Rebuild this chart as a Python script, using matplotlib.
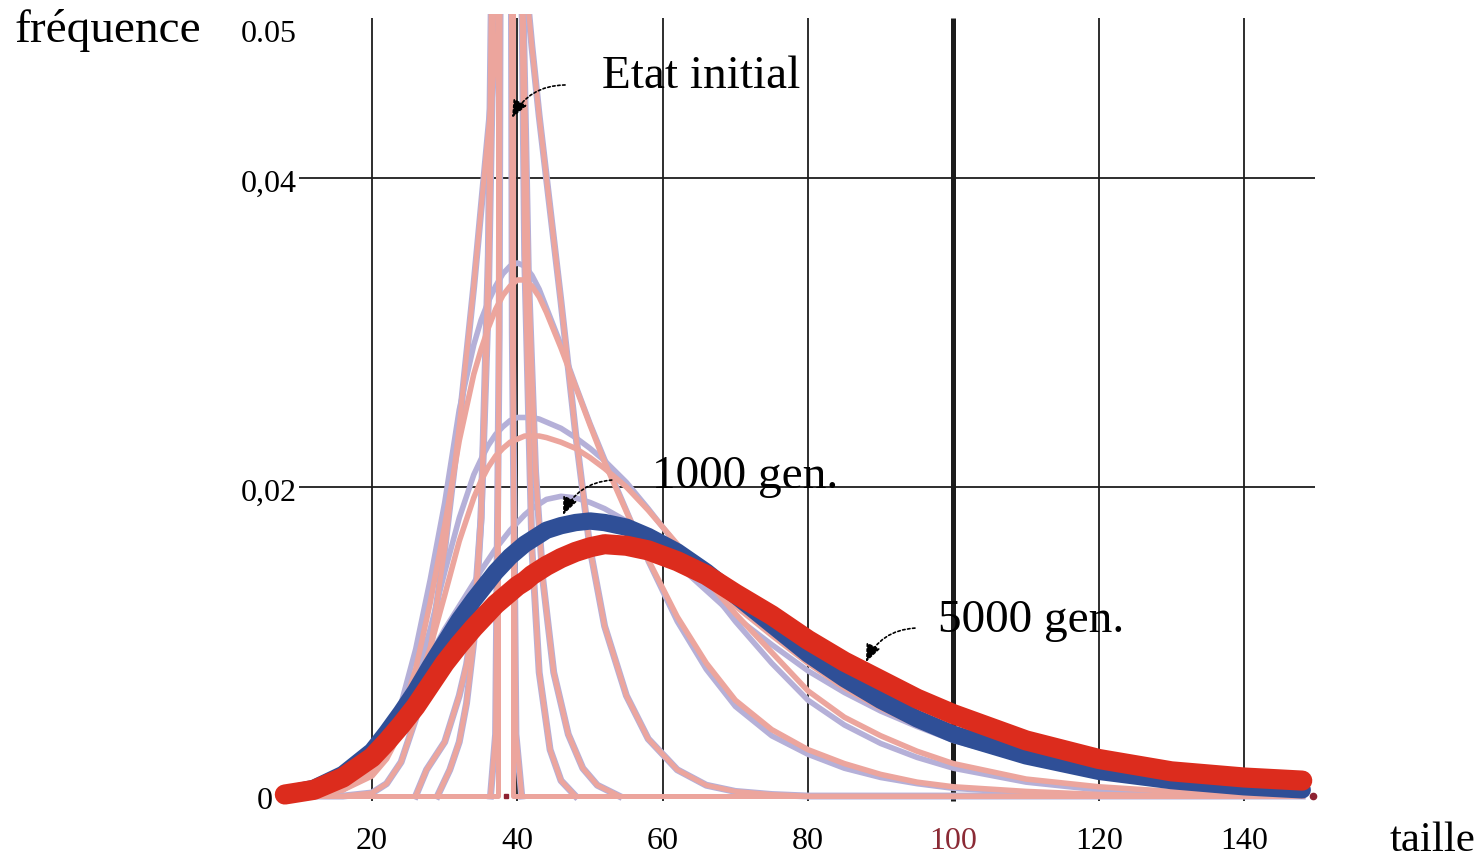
import matplotlib.pyplot as plt
from matplotlib.transforms import ScaledTranslation

plt.rcParams['font.family'] = ['Liberation Serif', 'DejaVu Serif']

# size classes (x) shared by the broad distributions
taille = [8, 12, 16, 20, 22, 24, 26, 28, 30, 32, 34, 35, 36, 37, 38, 39, 40, 41, 42, 43,
          44, 46, 48, 50, 52, 55, 58, 62, 66, 70, 75, 80, 85, 90, 95, 100, 110, 120, 130,
          140, 148]

# final states
red_5000 = [0.0001, 0.0004, 0.0012, 0.0025, 0.0035, 0.0046, 0.0058, 0.0072, 0.0086, 0.0098,
            0.0109, 0.0114, 0.0119, 0.0124, 0.0128, 0.0132, 0.0136, 0.0139, 0.0143, 0.0146,
            0.0149, 0.0154, 0.0158, 0.0161, 0.0163, 0.0162, 0.0159, 0.0152, 0.0143, 0.0131,
            0.0117, 0.0101, 0.0087, 0.0075, 0.0063, 0.0053, 0.0036, 0.0024, 0.0016, 0.0012,
            0.0010]
blue_1000 = [0.0001, 0.0005, 0.0014, 0.0029, 0.0041, 0.0054, 0.0068, 0.0084, 0.0099, 0.0114,
             0.0127, 0.0133, 0.0139, 0.0145, 0.0150, 0.0155, 0.0159, 0.0163, 0.0166, 0.0169,
             0.0172, 0.0175, 0.0177, 0.0178, 0.0177, 0.0174, 0.0168, 0.0158, 0.0145, 0.0130,
             0.0111, 0.0092, 0.0076, 0.0062, 0.0050, 0.0040, 0.0026, 0.0016, 0.0010, 0.0006,
             0.0004]

# intermediate generations (lav = run 1, pink = run 2)
gen_d = [0, 0, 0, 0.0002, 0.0008, 0.0022, 0.0050, 0.0095, 0.0160, 0.0240,
         0.0330, 0.0380, 0.0430, 0.0480, 0.0530, 0.0565, 0.0575, 0.0535, 0.0485, 0.0440,
         0.0400, 0.0320, 0.0235, 0.0160, 0.0110, 0.0065, 0.0037, 0.0017, 0.0007, 0.0003,
         0.0001, 0, 0, 0, 0, 0, 0, 0, 0, 0, 0]
gen_e_lav = [0, 0.0001, 0.0004, 0.0018, 0.0035, 0.0060, 0.0095, 0.0140, 0.0190, 0.0250,
             0.0292, 0.0308, 0.0320, 0.0330, 0.0338, 0.0343, 0.0345, 0.0343, 0.0337, 0.0328,
             0.0316, 0.0292, 0.0266, 0.0241, 0.0218, 0.0185, 0.0152, 0.0113, 0.0082, 0.0058,
             0.0039, 0.0027, 0.0018, 0.0012, 0.0008, 0.0005, 0.0002, 0.0001, 0, 0, 0]
gen_e_pink = [0, 0.0001, 0.0004, 0.0015, 0.0030, 0.0052, 0.0082, 0.0125, 0.0175, 0.0230,
              0.0273, 0.0289, 0.0303, 0.0315, 0.0324, 0.0330, 0.0334, 0.0334, 0.0330, 0.0323,
              0.0313, 0.0290, 0.0265, 0.0240, 0.0216, 0.0184, 0.0153, 0.0116, 0.0086, 0.0062,
              0.0043, 0.0030, 0.0021, 0.0014, 0.0009, 0.0006, 0.0003, 0.0001, 0, 0, 0]
gen_f_lav = [0, 0.0001, 0.0005, 0.0015, 0.0028, 0.0048, 0.0075, 0.0108, 0.0145, 0.0180,
             0.0208, 0.0218, 0.0227, 0.0234, 0.0239, 0.0243, 0.0245, 0.0245, 0.0245, 0.0244,
             0.0242, 0.0238, 0.0232, 0.0225, 0.0217, 0.0203, 0.0186, 0.0162, 0.0137, 0.0113,
             0.0086, 0.0062, 0.0046, 0.0034, 0.0025, 0.0018, 0.0009, 0.0004, 0.0002, 0.0001, 0]
gen_f_pink = [0, 0.0001, 0.0004, 0.0013, 0.0024, 0.0042, 0.0066, 0.0096, 0.0130, 0.0165,
              0.0193, 0.0204, 0.0213, 0.0220, 0.0225, 0.0229, 0.0231, 0.0233, 0.0233, 0.0233,
              0.0232, 0.0229, 0.0225, 0.0219, 0.0212, 0.0200, 0.0185, 0.0163, 0.0140, 0.0118,
              0.0093, 0.0068, 0.0051, 0.0039, 0.0029, 0.0021, 0.0011, 0.0006, 0.0003, 0.0002,
              0.0001]
gen_g_lav = [0, 0.0002, 0.0008, 0.0024, 0.0036, 0.0052, 0.0072, 0.0091, 0.0108, 0.0123,
             0.0138, 0.0146, 0.0153, 0.0160, 0.0166, 0.0172, 0.0177, 0.0182, 0.0186, 0.0189,
             0.0192, 0.0194, 0.0193, 0.0190, 0.0186, 0.0178, 0.0167, 0.0150, 0.0133, 0.0116,
             0.0098, 0.0081, 0.0067, 0.0055, 0.0045, 0.0036, 0.0023, 0.0014, 0.0009, 0.0005,
             0.0003]
gen_g_pink = [0, 0.0003, 0.0010, 0.0024, 0.0035, 0.0049, 0.0065, 0.0081, 0.0097, 0.0112,
              0.0125, 0.0131, 0.0137, 0.0143, 0.0148, 0.0153, 0.0157, 0.0161, 0.0164, 0.0167,
              0.0170, 0.0174, 0.0176, 0.0177, 0.0176, 0.0172, 0.0165, 0.0153, 0.0139, 0.0123,
              0.0104, 0.0086, 0.0070, 0.0057, 0.0046, 0.0037, 0.0024, 0.0015, 0.0009, 0.0006,
              0.0004]

# initial state and the first, narrow generations
init_x = [8, 37.4, 37.4, 39.4, 39.4, 148]
init_y = [0, 0, 0.2, 0.2, 0, 0]
gen_b_x = [36.3, 37.0, 37.5, 38.0, 38.4, 38.8, 39.3, 39.8, 40.6]
gen_b_y = [0, 0.004, 0.03, 0.12, 0.25, 0.12, 0.03, 0.004, 0]
gen_c1_x = [29, 30.7, 32, 33, 34, 35, 36, 37, 38, 38.6, 39.3, 40, 41, 42, 43, 44.5, 46, 48]
gen_c1_y = [0, 0.0017, 0.0035, 0.006, 0.010, 0.018, 0.035, 0.075, 0.14, 0.16, 0.14, 0.08,
            0.035, 0.016, 0.008, 0.003, 0.001, 0]
gen_c2_x = [26, 27.5, 30, 31, 32, 33, 34, 35, 36, 37, 38, 38.6, 39.5, 40.5, 41.5, 42.5, 43.5,
            45, 47, 49, 51, 54]
gen_c2_y = [0, 0.0017, 0.0035, 0.005, 0.0065, 0.0085, 0.0115, 0.018, 0.032, 0.058, 0.092,
            0.10, 0.088, 0.058, 0.034, 0.021, 0.014, 0.008, 0.004, 0.0018, 0.0007, 0]

x_ticks = [20, 40, 60, 80, 100, 120, 140]
y_ticks = [0, 0.02, 0.04, 0.05]
y_tick_labels = ['0', '0,02', '0,04', '0.05']
y_label_right = [6.3, 9.67, 9.67, 9.67]
y_label_drop = [0.13, 0.14, 0.14, 0.19]

PINK = '#eca59d'
LAV = '#b5b0d8'
BLUE = '#2f4f97'
RED = '#dc2c1d'
GRID = '#1c1c1c'

fig = plt.figure(figsize=(14.83, 8.63), dpi=100)
ax = fig.add_axes([0.15287, 0.02387, 0.74484, 0.95968])
ax.set_xlim(0, 152)
ax.set_ylim(-0.003, 0.0506)
ax.axis('off')

# grid
for xt in x_ticks:
    thick = xt == 100
    ax.vlines(xt, -0.0003, 0.05036, color=GRID, lw=3.6 if thick else 1.3, zorder=1)
ax.hlines([0.02, 0.04], 10, 149.7, color=GRID, lw=1.3, zorder=1)

# narrow early generations
for gx, gy in [(gen_c2_x, gen_c2_y), (gen_c1_x, gen_c1_y), (gen_b_x, gen_b_y)]:
    ax.plot(gx, gy, color=LAV, lw=5, zorder=2, solid_joinstyle='round')
    ax.plot(gx, gy, color=PINK, lw=3.6, zorder=3, solid_joinstyle='round')
ax.plot(taille, gen_d, color=LAV, lw=5, zorder=2, solid_joinstyle='round')
ax.plot(taille, gen_d, color=PINK, lw=3.6, zorder=3, solid_joinstyle='round')

for lav, pink in [(gen_e_lav, gen_e_pink), (gen_f_lav, gen_f_pink), (gen_g_lav, gen_g_pink)]:
    ax.plot(taille, lav, color=LAV, lw=4, zorder=2, solid_capstyle='round',
            solid_joinstyle='round')
    ax.plot(taille, pink, color=PINK, lw=4, zorder=3, solid_capstyle='round',
            solid_joinstyle='round')

ax.plot(init_x, init_y, color=PINK, lw=3.6, zorder=3)
ax.plot([38.5], [0], 's', color='#8e2232', ms=3.5, zorder=4)
ax.plot([149.5], [0], 'o', color='#8e2232', ms=4.5, zorder=1)

ax.plot(taille, blue_1000, color=BLUE, lw=12.5, zorder=5, solid_capstyle='round',
        solid_joinstyle='round')
ax.plot(taille, red_5000, color=RED, lw=14.5, zorder=6, solid_capstyle='round',
        solid_joinstyle='round')

# tick labels
for v, lab, xr, drop in zip(y_ticks, y_tick_labels, y_label_right, y_label_drop):
    off = ScaledTranslation(0, -drop, fig.dpi_scale_trans)
    ax.text(xr, v, lab, ha='right', va='baseline', fontsize=23,
            transform=ax.transData + off)
for xt in x_ticks:
    ax.text(xt, -0.00343, str(xt), ha='center', va='baseline', fontsize=23,
            color='#8b2a35' if xt == 100 else 'black')

fig.text(15 / 1483, 1 - 42 / 863, 'fréquence', fontsize=34, va='baseline')
fig.text(1476 / 1483, 1 - 851 / 863, 'taille', fontsize=31, va='baseline', ha='right')

# annotations with dotted arrows
notes = [('Etat initial', (39.26, 0.04388), (46.56, 0.04602), (602, 88)),
         ('1000 gen.', (46.28, 0.01819), (52.99, 0.02045), (652, 488)),
         ('5000 gen.', (87.97, 0.00867), (94.71, 0.01087), (938, 632))]
for txt, head, tail, (px, py) in notes:
    ax.annotate('', xy=head, xytext=tail, zorder=8,
                arrowprops=dict(arrowstyle='-|>,head_length=0.6,head_width=0.25',
                                mutation_scale=18, color='black', lw=1.2,
                                linestyle=(0, (1.5, 1.5)),
                                connectionstyle='arc3,rad=0.3',
                                shrinkA=0, shrinkB=0))
    fig.text(px / 1483, 1 - py / 863, txt, fontsize=34, va='baseline', zorder=9)

fig.savefig('out.png', dpi=100)
